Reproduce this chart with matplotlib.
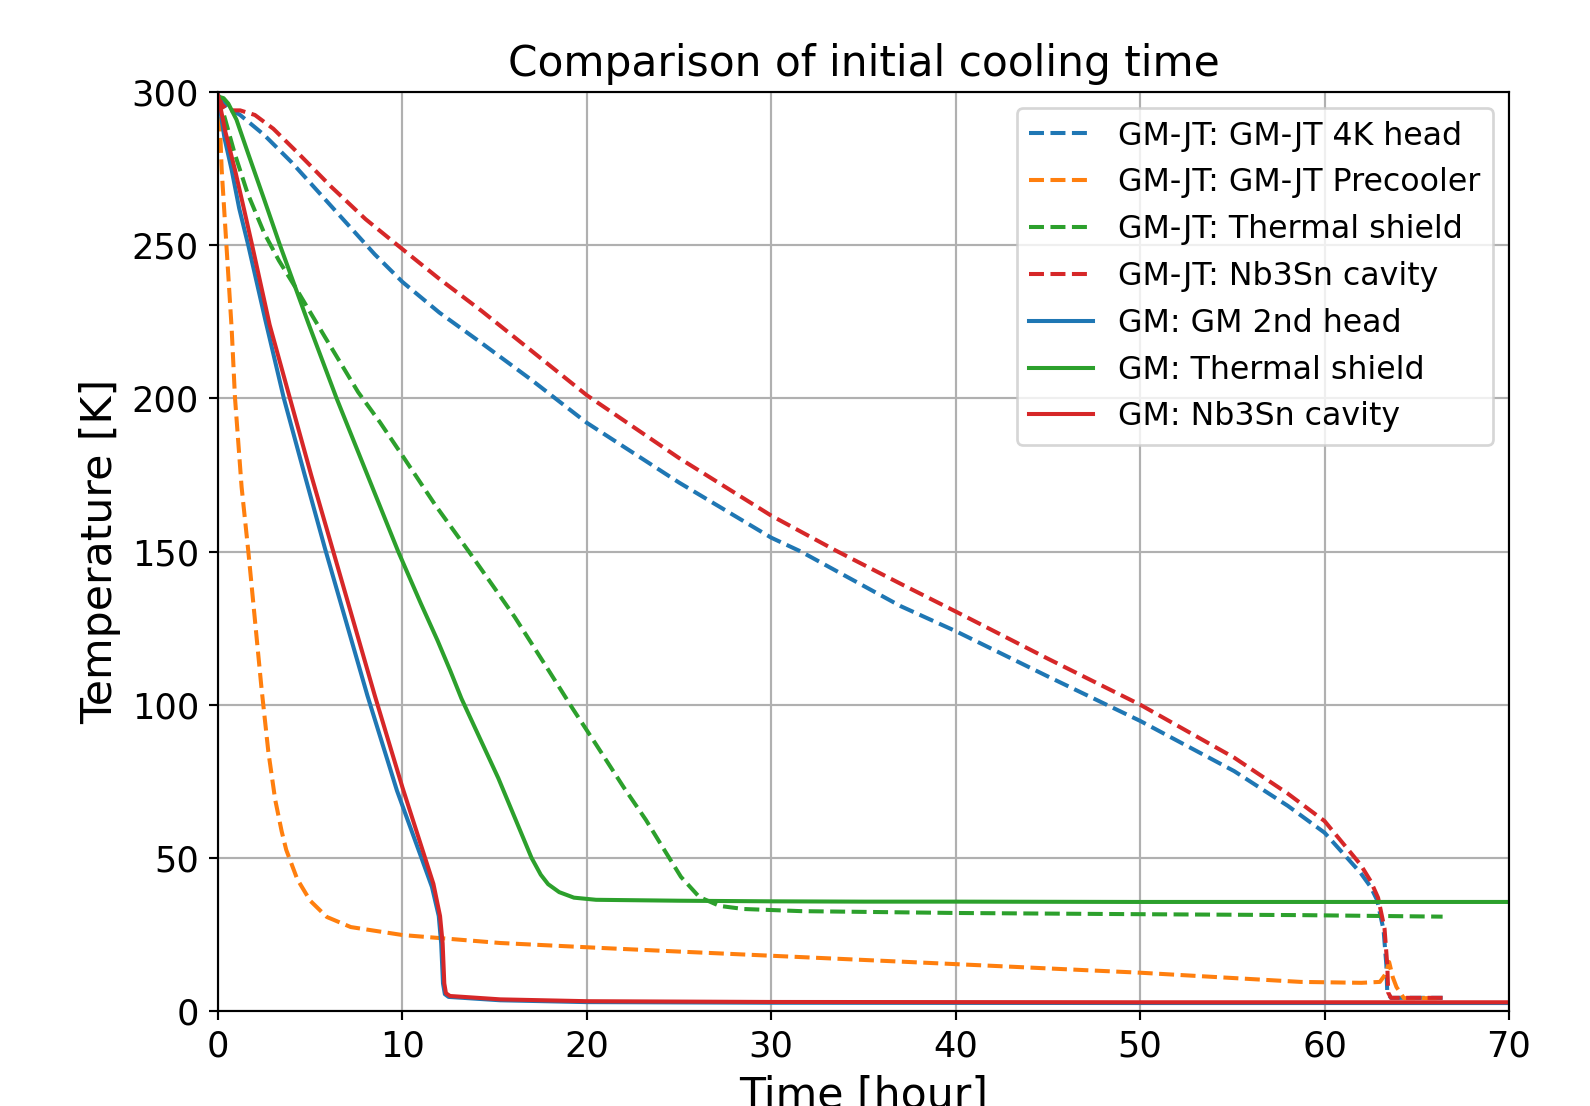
import matplotlib
matplotlib.use("Agg")
import matplotlib.pyplot as plt

# ---------------- data ----------------
jt_head_t = [0, 0.5, 1.2, 2.5, 4.0, 5.5, 7.0, 8.5, 10, 12, 14.3, 17, 20, 25, 30, 31.6,
             37, 40, 45, 50, 55.1, 58, 60, 61.95, 62.5, 62.85, 63.2, 63.35, 63.4, 63.6, 66.4]
jt_head_T = [299, 295, 292.5, 286, 277, 267, 257, 247, 238, 228, 218, 206, 192, 172.5,
             154.5, 150, 132.2, 124, 109.2, 94.7, 78.3, 67, 58.2, 45.1, 40.5, 36.2, 26.4, 15, 5.9, 4.3, 4.3]

jt_pre_t = [0, 0.1, 0.2, 0.47, 0.74, 0.92, 1.28, 1.64, 2.0, 2.36, 2.73, 3.1, 3.45, 3.7, 4.3, 5.0,
            5.9, 7.2, 10.0, 15.3, 20.7, 25, 31.6, 40, 50, 58.7, 62, 63.0, 63.3, 63.5, 63.7, 63.9, 64.3, 66.4]
jt_pre_T = [299, 290, 274.6, 248.7, 222.8, 200.3, 171, 150.3, 127.8, 105.3, 84.6, 69, 58.7, 52.6, 43, 36,
            30.7, 27.4, 24.8, 22.2, 20.6, 19.4, 17.6, 15.3, 12.5, 9.5, 9.2, 9.5, 12, 16, 11, 7.8, 4.2, 4.2]

jt_shield_t = [0, 0.3, 0.9, 1.6, 2.5, 3.3, 4.17, 5.8, 7.6, 8.78, 10, 11.8, 13.6, 15.0, 16.1, 17.0, 18.0,
               19.2, 20.5, 22.0, 23.2, 24.3, 25.1, 26.1, 27.2, 28.5, 31.6, 40, 50, 58.7, 66.4]
jt_shield_T = [299, 293, 280, 267, 254, 245, 236.5, 220, 202, 192.2, 181.3, 165, 150, 138, 128.5, 120, 110.5,
               99, 87, 73, 62.4, 51.6, 43.8, 37.2, 34.3, 33.3, 32.6, 32.0, 31.6, 31.3, 30.8]

jt_cav_t = [0, 0.2, 0.5, 1.2, 2.0, 3.0, 4.35, 6.15, 8.0, 10, 12, 14.3, 17, 20, 25, 30, 33.5,
            37, 40, 45, 50, 55.1, 58, 60, 61.95, 62.5, 62.9, 63.25, 63.4, 63.45, 63.6, 66.4]
jt_cav_T = [299, 296, 294, 294, 292.5, 288, 280, 269, 258.5, 248.7, 239, 228.5, 215.5, 201, 180.5, 161.7,
            150.3, 139.5, 130.4, 115, 100, 82.7, 71, 62, 47.8, 42.4, 37, 27, 15, 6, 4.3, 4.3]

gm_head_t = [0, 0.35, 0.74, 1.15, 1.64, 2.55, 3.57, 4.7, 5.8, 6.95, 8.1, 9.7, 11.0,
             11.6, 11.97, 12.1, 12.2, 12.3, 12.5, 15.3, 20, 30, 40, 50, 60, 70]
gm_head_T = [299, 285, 274.6, 262, 250, 226, 200, 175, 151, 127, 103, 72, 50.5,
             40.5, 31, 22.1, 9.0, 5.5, 4.6, 3.5, 2.9, 2.7, 2.65, 2.6, 2.6, 2.6]

gm_shield_t = [0, 0.3, 0.56, 1.0, 1.64, 2.5, 3.36, 4.9, 6.43, 8.14, 9.77, 11.0, 11.9, 12.6, 13.2,
               14.2, 15.2, 16.1, 17.0, 17.5, 17.9, 18.5, 19.3, 20.5, 25, 30, 35, 40, 50, 60, 70]
gm_shield_T = [298.5, 298, 296.2, 291, 279.8, 265, 250, 224.5, 200, 174.4, 150, 133, 121, 111, 102,
               89, 76, 63, 50, 44.5, 41.4, 38.8, 37, 36.3, 36.0, 35.8, 35.7, 35.7, 35.6, 35.6, 35.6]

gm_cav_t = [0, 0.4, 0.92, 1.4, 1.85, 2.8, 3.9, 5.05, 6.25, 7.4, 8.5, 10.0, 11.2,
            11.68, 12.04, 12.18, 12.27, 12.36, 12.58, 15.3, 20, 30, 40, 50, 60, 70]
gm_cav_T = [299, 287, 274.6, 262, 250, 224, 200, 175, 150, 126, 103, 73, 50.5,
            41.5, 31, 22.1, 9.0, 5.8, 4.9, 3.8, 3.2, 2.95, 2.9, 2.85, 2.85, 2.85]

labels = ["GM-JT: GM-JT 4K head", "GM-JT: GM-JT Precooler", "GM-JT: Thermal shield",
          "GM-JT: Nb3Sn cavity", "GM: GM 2nd head", "GM: Thermal shield", "GM: Nb3Sn cavity"]
x_ticks = [0, 10, 20, 30, 40, 50, 60, 70]
y_ticks = [0, 50, 100, 150, 200, 250, 300]

# ---------------- style ----------------
S = 1.944  # scale of reference px per pt relative to 100 dpi
plt.rcParams.update({
    "font.family": ["DejaVu Sans"],
    "lines.linewidth": 1.5 * S,
    "axes.linewidth": 0.8 * S,
    "grid.linewidth": 0.8 * S,
    "grid.color": "#b0b0b0",
    "xtick.major.size": 3.5 * S,
    "ytick.major.size": 3.5 * S,
    "xtick.major.width": 0.8 * S,
    "ytick.major.width": 0.8 * S,
    "xtick.major.pad": 3.5 * S,
    "ytick.major.pad": 3.5 * S,
    "patch.linewidth": 1.0 * S,
    "xtick.labelsize": 25.3,
    "ytick.labelsize": 25.3,
})

fig = plt.figure(figsize=(15.9, 11.06), dpi=100)
ax = fig.add_axes([218 / 1590, (1106 - 1011) / 1106, (1509 - 218) / 1590, (1011 - 92) / 1106])

ax.plot(jt_head_t, jt_head_T, "--", color="#1f77b4", label=labels[0])
ax.plot(jt_pre_t, jt_pre_T, "--", color="#ff7f0e", label=labels[1])
ax.plot(jt_shield_t, jt_shield_T, "--", color="#2ca02c", label=labels[2])
ax.plot(jt_cav_t, jt_cav_T, "--", color="#d62728", label=labels[3])
ax.plot(gm_head_t, gm_head_T, "-", color="#1f77b4", label=labels[4])
ax.plot(gm_shield_t, gm_shield_T, "-", color="#2ca02c", label=labels[5])
ax.plot(gm_cav_t, gm_cav_T, "-", color="#d62728", label=labels[6])

ax.set_xlim(0, 70)
ax.set_ylim(0, 300)
ax.set_xticks(x_ticks)
ax.set_yticks(y_ticks)
ax.grid(True)
ax.set_xlabel("Time [hour]", fontsize=30.7, labelpad=4 * S)
ax.set_ylabel("Temperature [K]", fontsize=30.7, labelpad=4 * S)
ax.set_title("Comparison of initial cooling time", fontsize=30.4, pad=6 * S)
ax.legend(loc="upper right", fontsize=22.8)

fig.savefig("out.png", dpi=100)
